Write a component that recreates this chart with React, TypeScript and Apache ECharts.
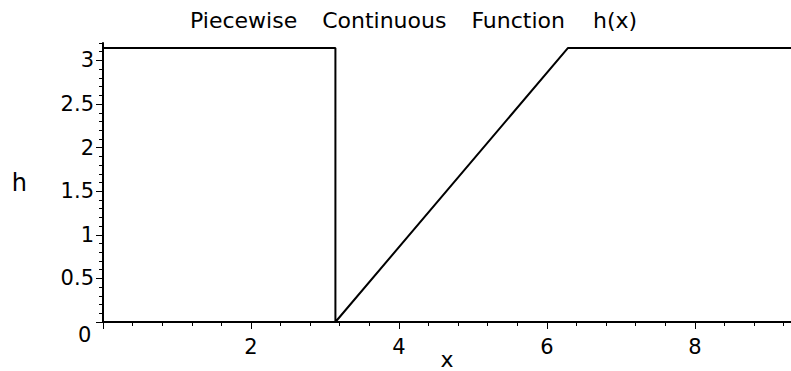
import React, { useEffect, useRef } from "react";
import * as echarts from "echarts";

// h(x): constant π up to x = π, drops to 0, rises linearly to π at 2π, then stays at π
const xValues = [0, 3.1416, 3.1416, 6.2832, 9.3];
const hValues = [3.1416, 3.1416, 0, 3.1416, 3.1416];

const xMajorTicks = [0, 2, 4, 6, 8];
const xTickLabels = [2, 4, 6, 8];
const xMinorTicks = [0.4, 0.8, 1.2, 1.6, 2.4, 2.8, 3.2, 3.6, 4.4, 4.8, 5.2, 5.6, 6.4, 6.8, 7.2, 7.6, 8.4, 8.8, 9.2];

const yMajorTicks = [0, 0.5, 1, 1.5, 2, 2.5, 3];
const yTickLabels = [0.5, 1, 1.5, 2, 2.5, 3];
const yMinorTicks = [
  0.1, 0.2, 0.3, 0.4, 0.6, 0.7, 0.8, 0.9, 1.1, 1.2, 1.3, 1.4, 1.6, 1.7, 1.8, 1.9,
  2.1, 2.2, 2.3, 2.4, 2.6, 2.7, 2.8, 2.9, 3.1, 3.2,
];

const titleWords = ["Piecewise", "Continuous", "Function", "h(x)"];

const X_MAX = 9.3;
const Y_MAX = 3.2;
const FONT = "'DejaVu Sans', sans-serif";

export default function App() {
  const ref = useRef<HTMLDivElement>(null);

  useEffect(() => {
    if (!ref.current) return;
    const chart = echarts.init(ref.current, null, { renderer: "svg" });
    const labelStyle = { color: "#000", fontFamily: FONT, fontSize: 21 };
    const wordStyle = { color: "#000", fontFamily: FONT, fontSize: 22 };

    chart.setOption({
      animation: false,
      backgroundColor: "#fff",
      title: {
        text: titleWords
          .map((w, i) => `{${i === titleWords.length - 1 ? "last" : "w"}|${w}}`)
          .join(" "),
        left: 176,
        top: 4,
        textStyle: {
          color: "#000",
          fontFamily: FONT,
          fontSize: 22,
          fontWeight: "normal",
          rich: {
            w: { ...wordStyle, padding: [0, 9, 0, 9] },
            last: { ...wordStyle, padding: [0, 9, 0, 12] },
          },
        },
      },
      grid: { left: 103, right: 0, top: 43, bottom: 49, containLabel: false, outerBoundsMode: "none" },
      xAxis: [
        {
          type: "value",
          position: "bottom",
          min: 0,
          max: X_MAX,
          name: "x",
          nameLocation: "middle",
          nameGap: 30,
          nameMoveOverlap: false,
          nameTextStyle: { ...labelStyle, fontSize: 22, lineHeight: 14 },
          axisLine: { show: true, onZero: false, lineStyle: { color: "#000", width: 2 } },
          axisTick: { show: true, length: 7, customValues: xMajorTicks, lineStyle: { color: "#000", width: 1 } },
          axisLabel: { ...labelStyle, margin: 14, customValues: xTickLabels },
          splitLine: { show: false },
        },
        {
          type: "value",
          position: "bottom",
          offset: 0,
          min: 0,
          max: X_MAX,
          axisLine: { show: false },
          axisTick: { show: true, length: 4, customValues: xMinorTicks, lineStyle: { color: "#000", width: 1 } },
          axisLabel: { show: false },
          splitLine: { show: false },
        },
      ],
      yAxis: [
        {
          type: "value",
          position: "left",
          min: 0,
          max: Y_MAX,
          name: "h",
          nameLocation: "middle",
          nameRotate: 0,
          nameGap: 76,
          nameMoveOverlap: false,
          nameTextStyle: { ...labelStyle, fontSize: 24 },
          axisLine: { show: true, onZero: false, lineStyle: { color: "#000", width: 2 } },
          axisTick: { show: true, length: 7, customValues: yMajorTicks, lineStyle: { color: "#000", width: 1 } },
          axisLabel: { ...labelStyle, margin: 9, customValues: yTickLabels },
          splitLine: { show: false },
        },
        {
          type: "value",
          position: "left",
          offset: 0,
          min: 0,
          max: Y_MAX,
          axisLine: { show: false },
          axisTick: { show: true, length: 4, customValues: yMinorTicks, lineStyle: { color: "#000", width: 1 } },
          axisLabel: { show: false },
          splitLine: { show: false },
        },
      ],
      graphic: [
        {
          type: "text",
          left: 78,
          top: 324,
          style: { text: "0", fill: "#000", font: `21px ${FONT}` },
        },
      ],
      series: [
        {
          type: "line",
          xAxisIndex: 0,
          yAxisIndex: 0,
          data: xValues.map((x, i) => [x, hValues[i]]),
          symbol: "none",
          clip: false,
          lineStyle: { color: "#000", width: 2 },
        },
      ],
    });

    return () => chart.dispose();
  }, []);

  return (
    <div
      ref={ref}
      style={{ position: "fixed", left: 0, top: 0, width: 791, height: 371, background: "#fff" }}
    />
  );
}
